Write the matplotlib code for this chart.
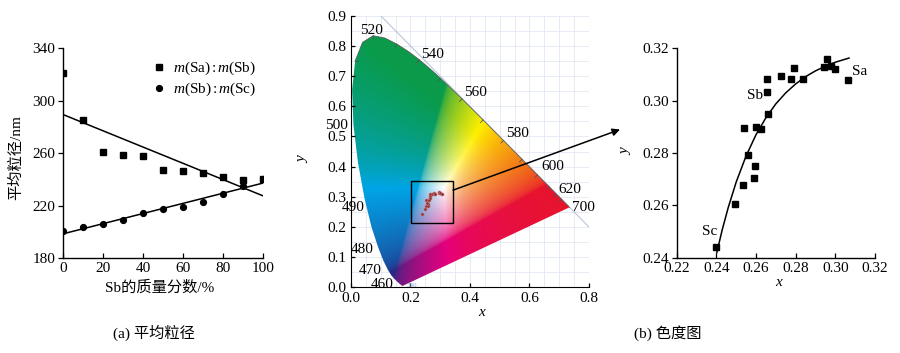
import numpy as np
import matplotlib
matplotlib.use('Agg')
import matplotlib.pyplot as plt
from matplotlib.patches import Polygon, Rectangle

plt.rcParams['font.family'] = ['Liberation Serif', 'Noto Sans CJK SC']
plt.rcParams['mathtext.fontset'] = 'custom'
plt.rcParams['mathtext.rm'] = 'Liberation Serif'
plt.rcParams['mathtext.it'] = 'Liberation Serif:italic'

# ---------------- data ----------------
# (a) mean particle size vs Sb mass fraction
sb_fraction = [0, 10, 20, 30, 40, 50, 60, 70, 80, 90, 100]
size_sa_sb = [321, 285, 260.5, 258.5, 257.5, 247.3, 246.5, 244.5, 241.7, 239.4, 240.4]
size_sb_sc = [200.6, 203.6, 205.7, 208.7, 214.5, 217.3, 218.6, 222.4, 228.5, 235.1, 240.4]
legend_labels = ['$m$(Sa)$\\,$:$\\,$$m$(Sb)', '$m$(Sb)$\\,$:$\\,$$m$(Sc)']

# (b) chromaticity coordinates of the samples
cie_x = [0.2398, 0.2494, 0.2534, 0.2588, 0.2597, 0.2560, 0.2537, 0.2599, 0.2625,
         0.2661, 0.2654, 0.2654, 0.2726, 0.2778, 0.2793, 0.2837, 0.2943, 0.2956,
         0.2978, 0.2998, 0.3064]
cie_y = [0.2442, 0.2605, 0.2679, 0.2704, 0.2750, 0.2794, 0.2897, 0.2899, 0.2893,
         0.2948, 0.3033, 0.3082, 0.3093, 0.3084, 0.3124, 0.3083, 0.3129, 0.3161,
         0.3134, 0.3122, 0.3079]
# trend curve
curve_x = [0.2402, 0.2430, 0.2460, 0.2500, 0.2550, 0.2600, 0.2650, 0.2700, 0.2750,
           0.2800, 0.2850, 0.2900, 0.2950, 0.3000, 0.3069]
curve_y = [0.2419, 0.2508, 0.2592, 0.2689, 0.2789, 0.2870, 0.2935, 0.2988, 0.3030,
           0.3064, 0.3092, 0.3114, 0.3132, 0.3147, 0.3163]
point_names = ['Sc', 'Sb', 'Sa']
point_name_x = [0.2368, 0.2597, 0.3121]
point_name_y = [0.2502, 0.3018, 0.3111]

# CIE 1931 spectral locus
locus_wl = [380, 420, 440, 450, 460, 465, 470, 475, 480, 485, 490, 495, 500, 505, 510,
            515, 520, 525, 530, 535, 540, 545, 550, 555, 560, 565, 570, 575, 580, 585,
            590, 595, 600, 605, 610, 615, 620, 625, 630, 640, 650, 660, 680, 700]
locus_x = [0.1741, 0.1714, 0.1644, 0.1566, 0.1440, 0.1355, 0.1241, 0.1096, 0.0913,
           0.0687, 0.0454, 0.0235, 0.0082, 0.0039, 0.0139, 0.0389, 0.0743, 0.1142,
           0.1547, 0.1929, 0.2296, 0.2658, 0.3016, 0.3373, 0.3731, 0.4087, 0.4441,
           0.4788, 0.5125, 0.5448, 0.5752, 0.6029, 0.6270, 0.6482, 0.6658, 0.6801,
           0.6915, 0.7006, 0.7079, 0.7190, 0.7260, 0.7300, 0.7334, 0.7347]
locus_y = [0.0050, 0.0051, 0.0109, 0.0177, 0.0297, 0.0399, 0.0578, 0.0868, 0.1327,
           0.2007, 0.2950, 0.4127, 0.5384, 0.6548, 0.7502, 0.8120, 0.8338, 0.8262,
           0.8059, 0.7816, 0.7543, 0.7243, 0.6923, 0.6589, 0.6245, 0.5896, 0.5547,
           0.5202, 0.4866, 0.4544, 0.4242, 0.3965, 0.3725, 0.3514, 0.3340, 0.3197,
           0.3083, 0.2993, 0.2920, 0.2809, 0.2740, 0.2700, 0.2666, 0.2653]
wl_labels = ['520', '540', '560', '580', '600', '620', '700', '500', '490', '480', '470', '460']
wl_label_x = [0.069, 0.2745, 0.420, 0.560, 0.680, 0.736, 0.781, -0.048, 0.008, 0.036, 0.066, 0.106]
wl_label_y = [0.850, 0.7715, 0.646, 0.510, 0.400, 0.3245, 0.265, 0.5375, 0.265, 0.126, 0.055, 0.011]

# ---------------- figure ----------------
fig = plt.figure(figsize=(9, 3.53), dpi=100)
ax1 = fig.add_axes([0.070, 0.269, 0.222, 0.595])
ax2 = fig.add_axes([0.390, 0.186, 0.2644, 0.7694])
ax3 = fig.add_axes([0.7519, 0.270, 0.2203, 0.593])

TS = 11

def style(ax):
    for s in ['top', 'right']:
        ax.spines[s].set_visible(False)
    for s in ['left', 'bottom']:
        ax.spines[s].set_linewidth(1.0)
    ax.tick_params(axis='x', direction='in', length=3.5, width=0.9, labelsize=TS, pad=3)
    ax.tick_params(axis='y', direction='out', length=3.5, width=0.9, labelsize=TS, pad=2)

# ---- (a)
style(ax1)
xs = np.array(sb_fraction, dtype=float)
ax1.plot(xs, size_sa_sb, 's', color='black', ms=4.2, label=legend_labels[0])
ax1.plot(xs, size_sb_sc, 'o', color='black', ms=4.2, label=legend_labels[1])
xx = np.array([0.0, 100.0])
for ser in (size_sa_sb, size_sb_sc):
    p = np.polyfit(xs, ser, 1)
    ax1.plot(xx, np.polyval(p, xx), '-', color='black', lw=1.1)
ax1.set_xlim(0, 100)
ax1.set_ylim(180, 340)
ax1.set_xticks([0, 20, 40, 60, 80, 100])
ax1.set_yticks([180, 220, 260, 300, 340])
ax1.legend(loc='upper right', bbox_to_anchor=(1.02, 0.995), frameon=False, fontsize=TS,
           handlelength=0.8, handletextpad=0.5, labelspacing=0.25, borderpad=0.2)

# ---- (b) chromaticity diagram
for s in ['top', 'right']:
    ax2.spines[s].set_visible(False)
ax2.tick_params(axis='both', direction='in', length=3, width=0.9, labelsize=TS, pad=3)
ax2.set_xlim(0, 0.8)
ax2.set_ylim(0, 0.9)
ax2.set_xticks([0.0, 0.2, 0.4, 0.6, 0.8])
ax2.set_yticks(np.arange(0, 0.91, 0.1))
ax2.xaxis.set_major_formatter(matplotlib.ticker.FormatStrFormatter('%.1f'))
ax2.yaxis.set_major_formatter(matplotlib.ticker.FormatStrFormatter('%.1f'))
for g in np.arange(0.05, 0.81, 0.05):
    ax2.axvline(g, color='#e2e8f3', lw=0.6, zorder=0)
for g in np.arange(0.05, 0.91, 0.05):
    ax2.axhline(g, color='#e2e8f3', lw=0.6, zorder=0)
ax2.plot([0.1, 0.8], [0.9, 0.2], color='#b9c6da', lw=0.8, zorder=0.5)

nx, ny = 480, 540
gx = np.linspace(0, 0.8, nx)
gy = np.linspace(0.0005, 0.9, ny)
GX, GY = np.meshgrid(gx, gy)
XYZ = np.stack([GX / GY, np.ones_like(GX), (1 - GX - GY) / GY], -1)
Mx = np.array([[3.2406, -1.5372, -0.4986], [-0.9689, 1.8758, 0.0415], [0.0557, -0.2040, 1.0570]])
rgb = XYZ @ Mx.T
rgb = np.clip(rgb, 0, None)
rgb = rgb / np.maximum(rgb.max(axis=-1, keepdims=True), 1e-9)
srgb = np.where(rgb <= 0.0031308, 12.92 * rgb, 1.055 * np.power(rgb, 1 / 2.4) - 0.055)
r = srgb[..., 0:1]
g = srgb[..., 1:2]
b = np.power(rgb[..., 2:3], 1 / 1.1)
cK = np.array([35, 31, 32]) / 255
cR = np.array([232, 20, 45]) / 255
cG = np.array([10, 155, 75]) / 255
cB = np.array([38, 42, 132]) / 255
cY = np.array([255, 240, 0]) / 255
cM = np.array([230, 0, 125]) / 255
cC = np.array([0, 165, 230]) / 255
cW = np.array([255, 255, 255]) / 255
img = (cK * (1 - r) * (1 - g) * (1 - b) + cR * r * (1 - g) * (1 - b) + cG * (1 - r) * g * (1 - b)
       + cB * (1 - r) * (1 - g) * b + cY * r * g * (1 - b) + cM * r * (1 - g) * b
       + cC * (1 - r) * g * b + cW * r * g * b)
img = np.clip(img, 0, 1)
poly = Polygon(np.column_stack([locus_x, locus_y]), closed=True, facecolor='none',
               edgecolor='none', transform=ax2.transData)
ax2.add_patch(poly)
im = ax2.imshow(img, extent=[0, 0.8, 0.0005, 0.9], origin='lower', aspect='auto',
                interpolation='bilinear', zorder=1)
im.set_clip_path(poly)
i520 = locus_wl.index(520)
ax2.plot(locus_x[i520 - 2:], locus_y[i520 - 2:], color='#555555', lw=0.5, zorder=2)
lx = np.array(locus_x); ly = np.array(locus_y)
for i, w in enumerate(locus_wl):
    if w % 10 == 0 and 510 <= w <= 630:
        dx = lx[i + 1] - lx[i - 1]; dy = ly[i + 1] - ly[i - 1]
        n = np.array([dy, -dx]) / np.hypot(dx, dy)
        ax2.plot([lx[i], lx[i] + 0.012 * n[0]], [ly[i], ly[i] + 0.012 * n[1]],
                 color='#555555', lw=0.6, zorder=2)
for t, xv, yv in zip(wl_labels, wl_label_x, wl_label_y):
    ax2.text(xv, yv, t, ha='center', va='center', fontsize=TS, zorder=5, clip_on=False)
ax2.text(0.205, 0.006, '380', color='#8da6d6', fontsize=5, ha='center', va='center', zorder=5)
ax2.add_patch(Rectangle((0.2017, 0.214), 0.1413, 0.138, fill=False, lw=1.0,
                        edgecolor='black', zorder=4))
ax2.plot(cie_x, cie_y, 'o', color='#8a2b2b', ms=2.2, mec='#c77a7a', mew=0.4, zorder=4)
ax2.annotate('', xy=(620 / 900, 1 - 129.5 / 353), xycoords='figure fraction',
             xytext=(0.3430, 0.322), textcoords='data',
             arrowprops=dict(arrowstyle='-|>', lw=1.1, color='black', mutation_scale=11,
                             shrinkA=0, shrinkB=0), annotation_clip=False, zorder=6)

# ---- (b) zoom
style(ax3)
ax3.plot(cie_x, cie_y, 's', color='black', ms=4.0)
ax3.plot(curve_x, curve_y, '-', color='black', lw=1.1)
ax3.set_xlim(0.22, 0.32)
ax3.set_ylim(0.24, 0.32)
ax3.set_xticks([0.22, 0.24, 0.26, 0.28, 0.30, 0.32])
ax3.set_yticks([0.24, 0.26, 0.28, 0.30, 0.32])
ax3.xaxis.set_major_formatter(matplotlib.ticker.FormatStrFormatter('%.2f'))
ax3.yaxis.set_major_formatter(matplotlib.ticker.FormatStrFormatter('%.2f'))
for t, xv, yv in zip(point_names, point_name_x, point_name_y):
    ax3.text(xv, yv, t, ha='center', va='center', fontsize=TS)

# ---- labels
fig.text(16 / 900, 1 - 158 / 353, '平均粒径/nm', rotation=90, ha='center', va='center', fontsize=TS)
fig.text(160 / 900, 1 - 288 / 353, 'Sb的质量分数/%', ha='center', va='center', fontsize=TS)
fig.text(482 / 900, 1 - 312 / 353, 'x', style='italic', ha='center', va='center', fontsize=TS)
fig.text(303 / 900, 1 - 160 / 353, 'y', style='italic', rotation=90, ha='center', va='center', fontsize=TS)
fig.text(779 / 900, 1 - 283 / 353, 'x', style='italic', ha='center', va='center', fontsize=TS)
fig.text(626 / 900, 1 - 152 / 353, 'y', style='italic', rotation=90, ha='center', va='center', fontsize=TS)
fig.text(154 / 900, 1 - 333 / 353, '(a) 平均粒径', ha='center', va='center', fontsize=TS)
fig.text(668 / 900, 1 - 333 / 353, '(b) 色度图', ha='center', va='center', fontsize=TS)

fig.savefig('out.png', dpi=100)
